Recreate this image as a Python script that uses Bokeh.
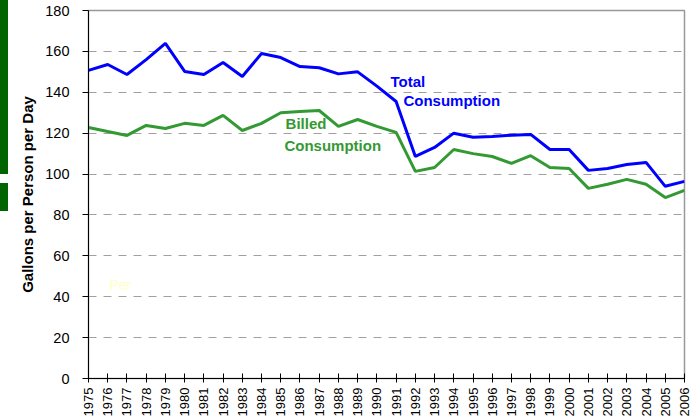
import math
from bokeh.plotting import figure
from bokeh.layouts import row
from bokeh.models import Range1d, FixedTicker, ColumnDataSource, Div
from bokeh.core.properties import value
from bokeh.embed import file_html
from bokeh.resources import INLINE

years = list(range(1975, 2007))
total = [150.7, 153.6, 148.7, 156.0, 163.9, 150.2, 148.7, 154.6, 147.7, 159.0,
         157.0, 152.6, 152.0, 149.0, 150.0, 143.0, 135.5, 108.6, 113.0, 120.0,
         118.0, 118.4, 119.0, 119.4, 112.0, 112.0, 101.8, 102.7, 104.7, 105.7,
         94.0, 96.4]
billed = [122.8, 120.8, 118.9, 123.8, 122.3, 124.8, 123.8, 128.7, 121.3, 124.8,
          130.0, 130.6, 131.1, 123.3, 126.7, 123.3, 120.4, 101.3, 103.2, 112.0,
          110.0, 108.6, 105.2, 109.0, 103.2, 102.7, 93.0, 95.0, 97.4, 95.0,
          88.5, 92.0]
y_ticks = [0, 20, 40, 60, 80, 100, 120, 140, 160, 180]

labels_txt = ["Total", "Consumption", "Billed", "Consumption"]
labels_x = [1990.71, 1991.38, 1985.25, 1985.19]
labels_y = [145.3, 136.0, 124.5, 114.2]
labels_col = ["#0000ff", "#0000ff", "#339933", "#339933"]

FONT = "Liberation Sans"

# decorative green side bars (block heights in px: bar, gap, bar)
side_blocks = [(174, "#006400"), (9, None), (28, "#006400")]
html = "".join(
    "<div style='width:8px;height:%dpx;background:%s'></div>" % (h, c or "transparent")
    for h, c in side_blocks)
side = Div(text=html, width=8, height=sum(h for h, _ in side_blocks), margin=0)

p = figure(width=686, height=420, output_backend="svg", toolbar_location=None,
           x_range=Range1d(1975, 2006), y_range=Range1d(0, 180),
           min_border_left=80, min_border_right=10, min_border_top=10,
           min_border_bottom=42)
p.outline_line_color = "#999999"
p.outline_line_width = 1.5

p.line(years, total, line_color="#0000ff", line_width=3)
p.line(years, billed, line_color="#339933", line_width=3)

src = ColumnDataSource(dict(x=labels_x, y=labels_y, t=labels_txt, c=labels_col))
p.text(x="x", y="y", text="t", text_color="c", source=src,
       text_font=value(FONT), text_font_size="15px", text_font_style="bold",
       text_align="left", text_baseline="middle")
p.text(x=[1976.09], y=[45.7], text=["Per"], text_color="#ffffc4",
       text_font=value(FONT), text_font_size="14px",
       text_align="left", text_baseline="middle")

p.xaxis.ticker = FixedTicker(ticks=years)
p.xaxis.major_label_orientation = math.pi / 2
p.xaxis.major_label_text_font = FONT
p.xaxis.major_label_text_font_size = "13px"
p.xaxis.major_label_text_color = "black"
p.xaxis.major_tick_in = 5
p.xaxis.major_tick_out = 4
p.xaxis.major_label_standoff = 5
p.xaxis.minor_tick_line_color = None

p.yaxis.ticker = FixedTicker(ticks=y_ticks)
p.yaxis.major_label_text_font = FONT
p.yaxis.major_label_text_font_size = "14.5px"
p.yaxis.major_label_text_color = "black"
p.yaxis.major_tick_in = 0
p.yaxis.major_tick_out = 6
p.yaxis.major_label_standoff = 13
p.yaxis.minor_tick_line_color = None
p.yaxis.axis_label = "Gallons per Person per Day"
p.yaxis.axis_label_text_font = FONT
p.yaxis.axis_label_text_font_size = "15px"
p.yaxis.axis_label_text_font_style = "bold"
p.yaxis.axis_label_text_color = "black"
p.yaxis.axis_label_standoff = 6

p.axis.axis_line_color = "black"
p.axis.major_tick_line_color = "black"

p.xgrid.visible = False
p.ygrid.grid_line_color = "#a0a0a0"
p.ygrid.grid_line_dash = "8 7"
p.ygrid.grid_line_width = 1

layout = row(side, p, spacing=0)
open("out.html", "w").write(file_html(layout, INLINE))
